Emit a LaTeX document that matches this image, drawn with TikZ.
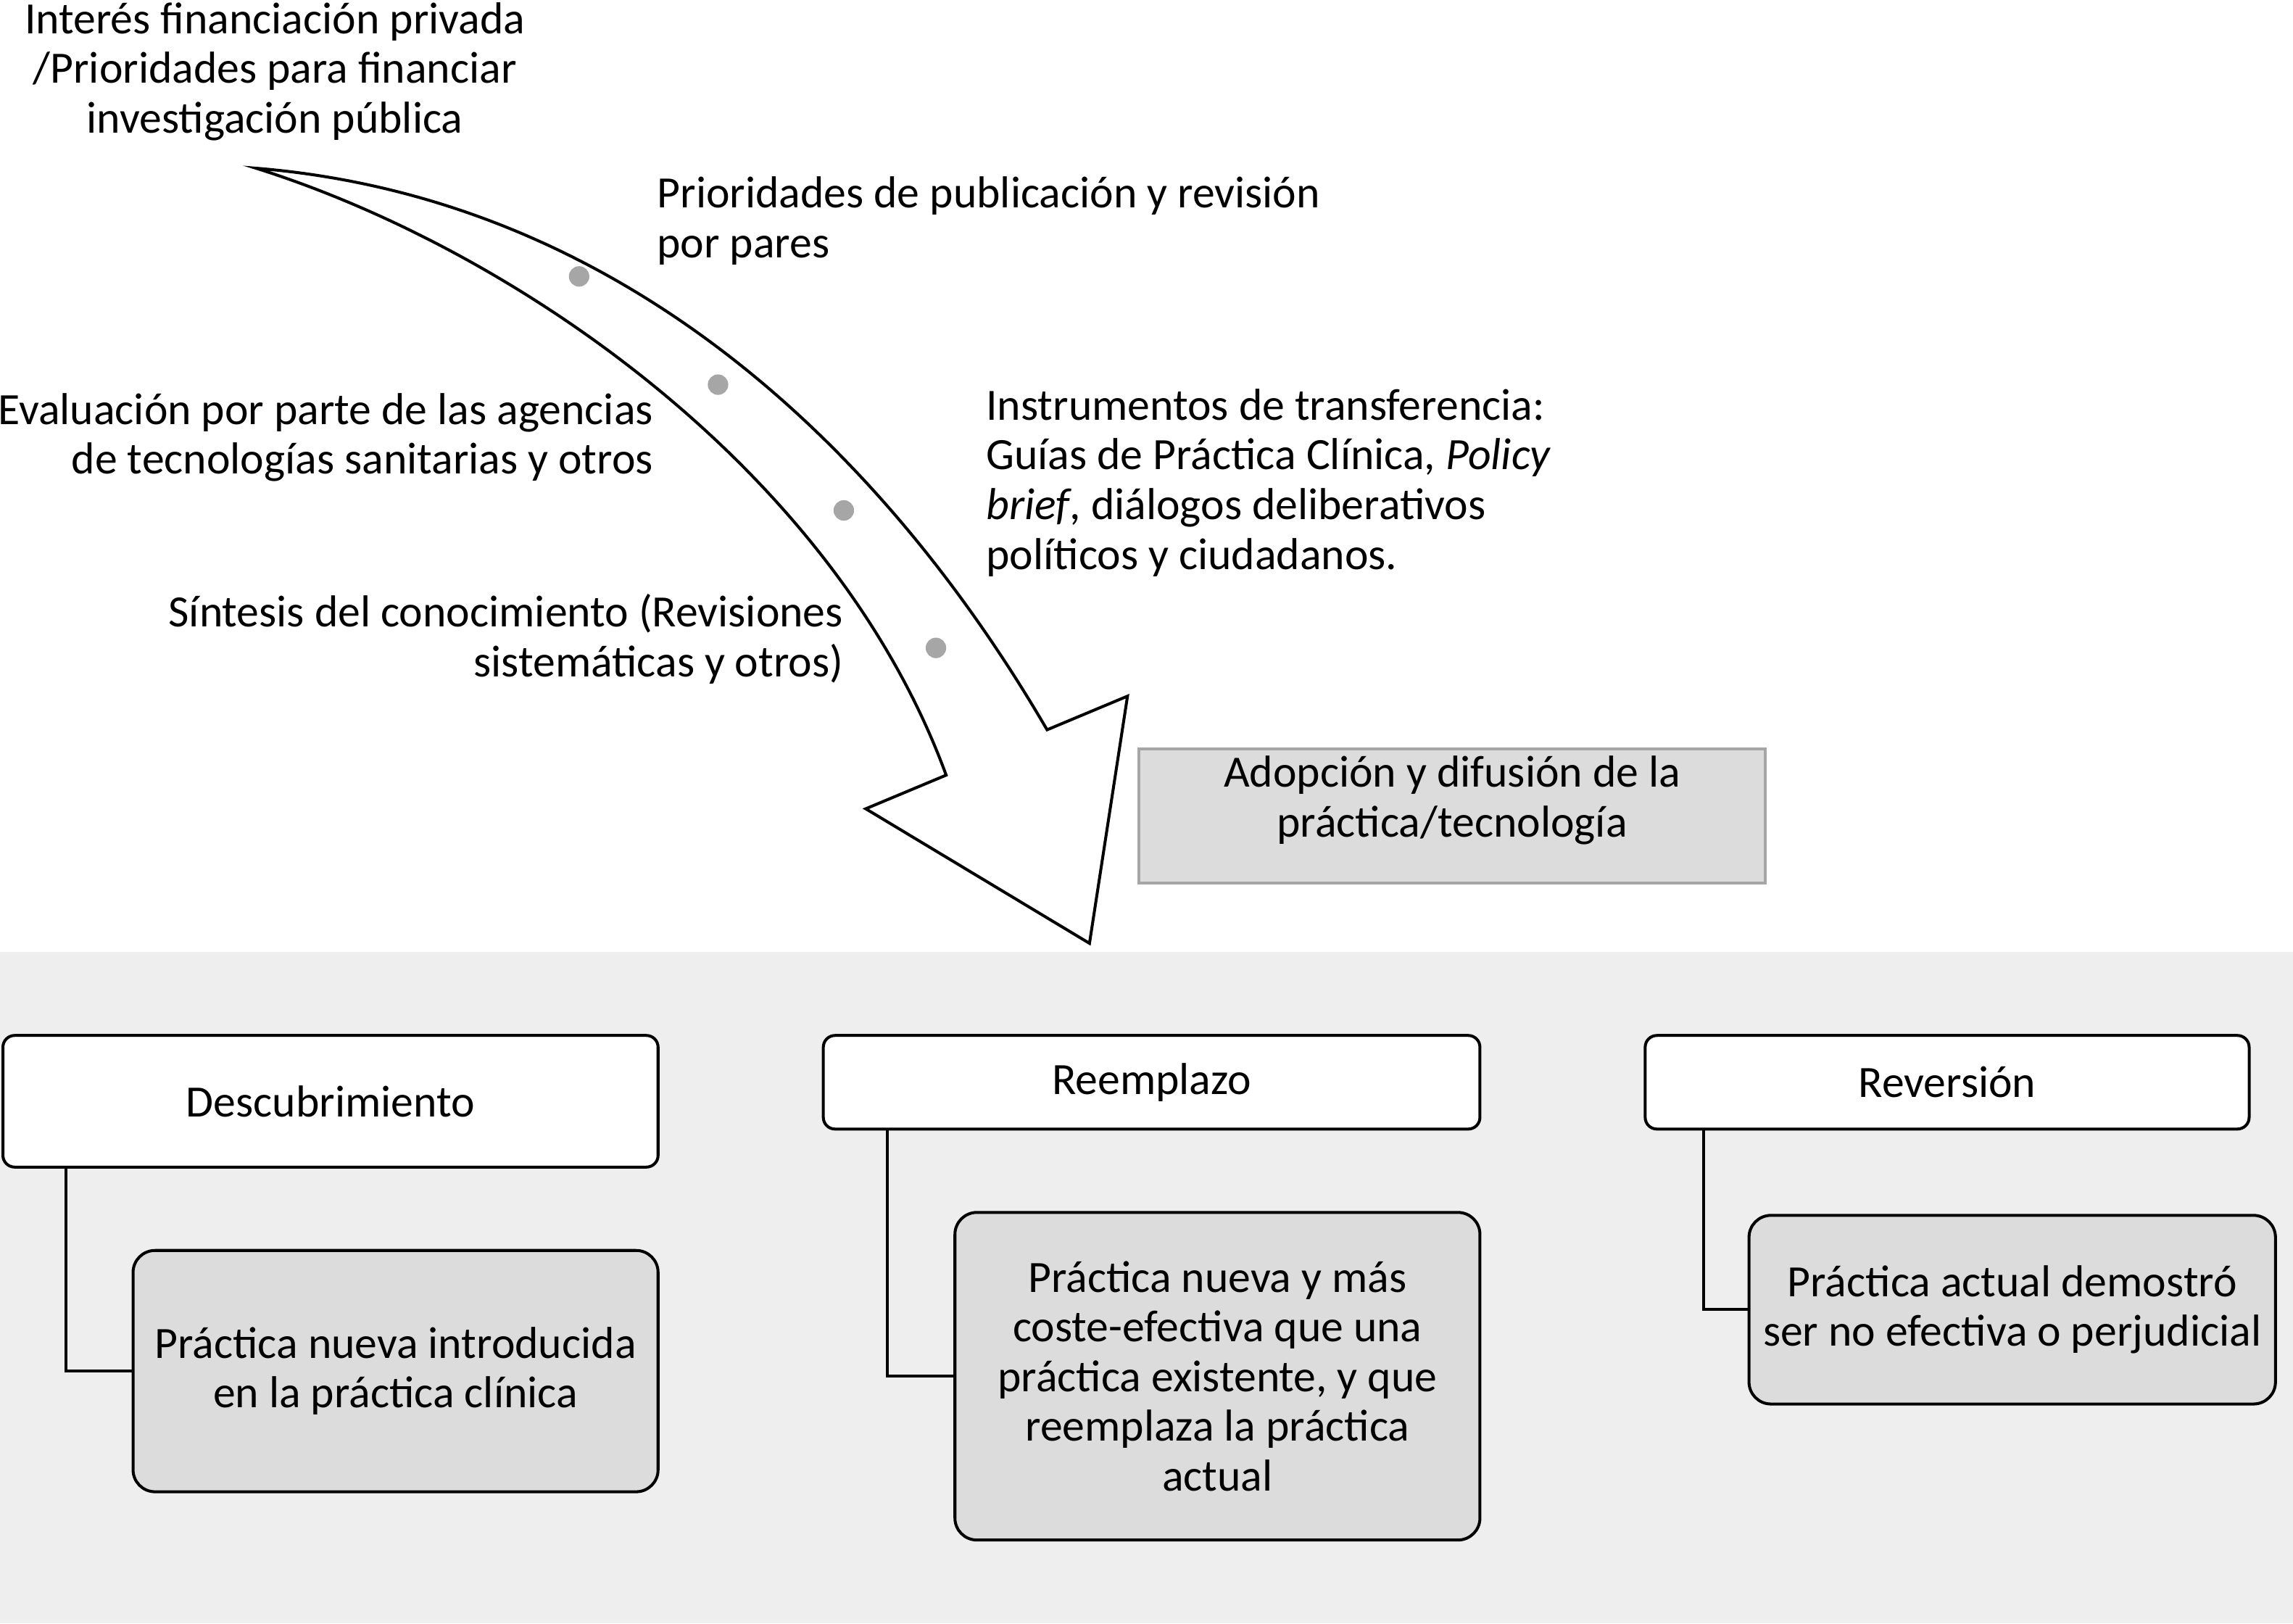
\documentclass[tikz,border=0pt]{standalone}
\usepackage{fontspec}
\setmainfont{Carlito}
\usetikzlibrary{positioning}

\definecolor{fondo}{HTML}{EEEEEE}
\definecolor{cajagris}{HTML}{DCDCDC}
\definecolor{bordegris}{HTML}{A6A6A6}

\tikzset{
  etiqueta/.style={inner sep=0pt},
  tipo/.style={draw, line width=1pt, fill=white, rounded corners=4pt},
  detalle/.style={draw, line width=1pt, fill=cajagris, rounded corners=7.5pt, align=center, minimum width=179.5pt},
  rama/.style={line width=1pt}
}

\begin{document}
\begin{tikzpicture}[x=0.5pt,y=-0.5pt,font=\fontsize{15.3}{17}\selectfont]
  \useasboundingbox (0,0) rectangle (1568,1110);

  % Draw the grey band at the bottom
  \fill[fondo] (0,651) rectangle (1568,1110);

  % Draw the curved arrow
  \draw[line width=1pt, fill=white] (175,115) .. controls (420,135) and (600,300) .. (716,499)
    -- (771,476) -- (745,645) -- (592,553) -- (647,530)
    .. controls (570,320) and (350,170) .. (175,115) -- cycle;

  % Draw the dots on the arrow
  \fill[bordegris] (396,189) circle (3.5pt);
  \fill[bordegris] (491,263) circle (3.5pt);
  \fill[bordegris] (577,349) circle (3.5pt);
  \fill[bordegris] (640,443) circle (3.5pt);

  % Draw the labels along the arrow
  \node[etiqueta, align=center] (financ) at (188,49) {Interés financiación privada\\/Prioridades para financiar\\investigación pública};
  \node[etiqueta, anchor=west, align=left] (public) at (449,151) {Prioridades de publicación y revisión\\por pares};
  \node[etiqueta, anchor=east, align=right] (evalua) at (447,299) {Evaluación por parte de las agencias\\de tecnologías sanitarias y otros};
  \node[etiqueta, anchor=west, align=left] (instrum) at (674,330) {Instrumentos de transferencia:\\Guías de Práctica Clínica, \textit{Policy}\\\textit{brief}, diálogos deliberativos\\políticos y ciudadanos.};
  \node[etiqueta, anchor=east, align=right] (sintesis) at (577,437) {Síntesis del conocimiento (Revisiones\\sistemáticas y otros)};

  % Draw the adoption box
  \node[draw=bordegris, line width=1pt, fill=cajagris, align=center, inner ysep=2pt, text depth=13.5pt,
        minimum width=214pt, minimum height=46pt] (adopcion) at (993,558) {Adopción y difusión de la\\práctica/tecnología};

  % Draw the three kinds of change
  \node[tipo, minimum width=224pt, minimum height=45pt] (descub) at (226,753) {Descubrimiento};
  \node[tipo, minimum width=224.5pt, minimum height=32pt] (reempl) at (787.5,740) {Reemplazo};
  \node[tipo, minimum width=206.5pt, minimum height=32pt] (revers) at (1331.5,740) {Reversión};

  % Draw the boxes below them
  \node[detalle, minimum height=82.5pt] (descubsub) at (270.5,937.5) {Práctica nueva introducida\\en la práctica clínica};
  \node[detalle, minimum height=112pt] (reemplsub) at (832.5,941) {Práctica nueva y más\\coste-efectiva que una\\práctica existente, y que\\reemplaza la práctica\\actual};
  \node[detalle, minimum width=180pt, minimum height=64.5pt] (reverssub) at (1376,895.5) {Práctica actual demostró\\ser no efectiva o perjudicial};

  % Draw the branches
  \draw[rama] ([xshift=22pt]descub.south west) |- (descubsub.west);
  \draw[rama] ([xshift=22.5pt]reempl.south west) |- (reemplsub.west);
  \draw[rama] ([xshift=20.5pt]revers.south west) |- (reverssub.west);
\end{tikzpicture}
\end{document}
